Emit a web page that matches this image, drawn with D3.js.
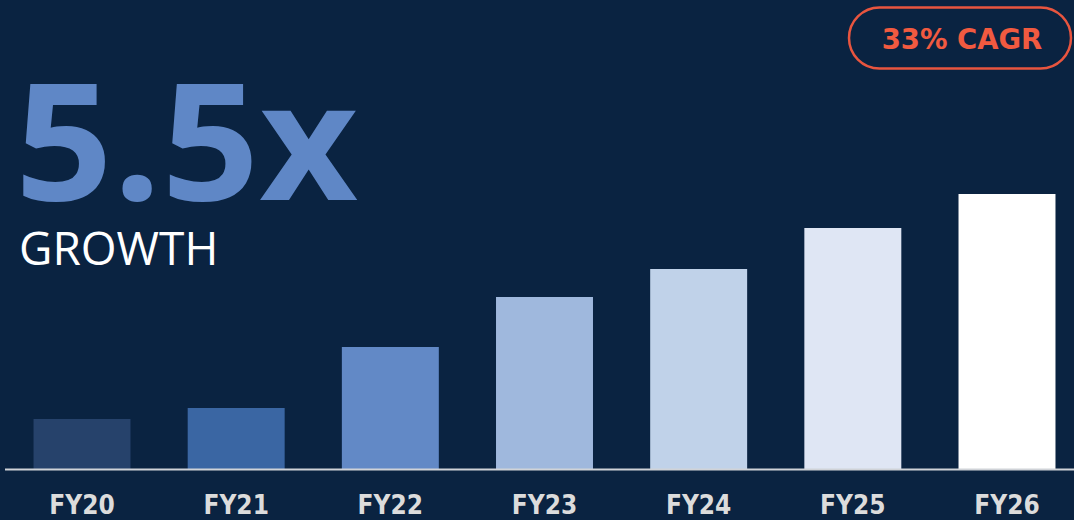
<!DOCTYPE html>
<html><head><meta charset="utf-8">
<script src="https://cdn.jsdelivr.net/npm/d3@7"></script>
<style>
html,body{margin:0;padding:0;background:#0a2341;}
svg{display:block;}
</style></head>
<body>
<script>
const categories = ["FY20","FY21","FY22","FY23","FY24","FY25","FY26"];
const values = [1.0, 1.22, 2.44, 3.44, 4.0, 4.82, 5.5];
const barColors = ["#26426b","#3a66a3","#6289c6","#9fb8dd","#c0d2e9","#dfe6f4","#ffffff"];
const headline = "5.5x";
const subhead = "GROWTH";
const badge = "33% CAGR";

const W = 1074, H = 520;
const svg = d3.select("body").append("svg").attr("width", W).attr("height", H);
svg.append("rect").attr("width", W).attr("height", H).attr("fill", "#0a2341");

const x = d3.scaleBand().domain(categories).range([5, 1084]).paddingInner(0.371).paddingOuter(0.185);
const y = d3.scaleLinear().domain([0, 5.5]).range([469, 194]);

svg.selectAll("rect.bar").data(values).enter().append("rect")
  .attr("class","bar")
  .attr("x", (d,i) => x(categories[i]))
  .attr("width", x.bandwidth())
  .attr("y", d => y(d))
  .attr("height", d => y(0) - y(d))
  .attr("fill", (d,i) => barColors[i]);

svg.append("line").attr("x1", 5).attr("x2", W).attr("y1", 469.5).attr("y2", 469.5)
  .attr("stroke", "#d0d3d8").attr("stroke-width", 2);

const xAxis = d3.axisBottom(x).tickSize(0).tickPadding(0);
const ax = svg.append("g").attr("transform", "translate(0,469)").call(xAxis);
ax.select(".domain").remove();
ax.selectAll("text")
  .attr("dy", null).attr("y", 45)
  .attr("fill", "#dcdcdc")
  .style("font-family", "'DejaVu Sans Condensed', 'DejaVu Sans', sans-serif")
  .style("font-weight", "bold")
  .style("font-size", "26px");

svg.append("text").attr("x", 15).attr("y", 200).text(headline)
  .attr("textLength", 343).attr("lengthAdjust", "spacingAndGlyphs")
  .attr("fill", "#5f87c6")
  .style("font-family", "'Open Sans', sans-serif").style("font-weight", "bold")
  .style("font-size", "163px");

svg.append("text").attr("x", 19).attr("y", 265).text(subhead)
  .attr("fill", "#ffffff")
  .style("font-family", "'Open Sans', sans-serif")
  .style("font-size", "46px");

svg.append("rect").attr("x", 849).attr("y", 7.5).attr("width", 222).attr("height", 61).attr("rx", 30.5)
  .attr("fill", "none").attr("stroke", "#e8553f").attr("stroke-width", 2.5);
svg.append("text").attr("x", 962).attr("y", 49).attr("text-anchor", "middle").text(badge)
  .attr("fill", "#f15a40")
  .style("font-family", "'DejaVu Sans', sans-serif").style("font-weight", "bold")
  .style("font-size", "27.5px");
</script>
</body></html>
